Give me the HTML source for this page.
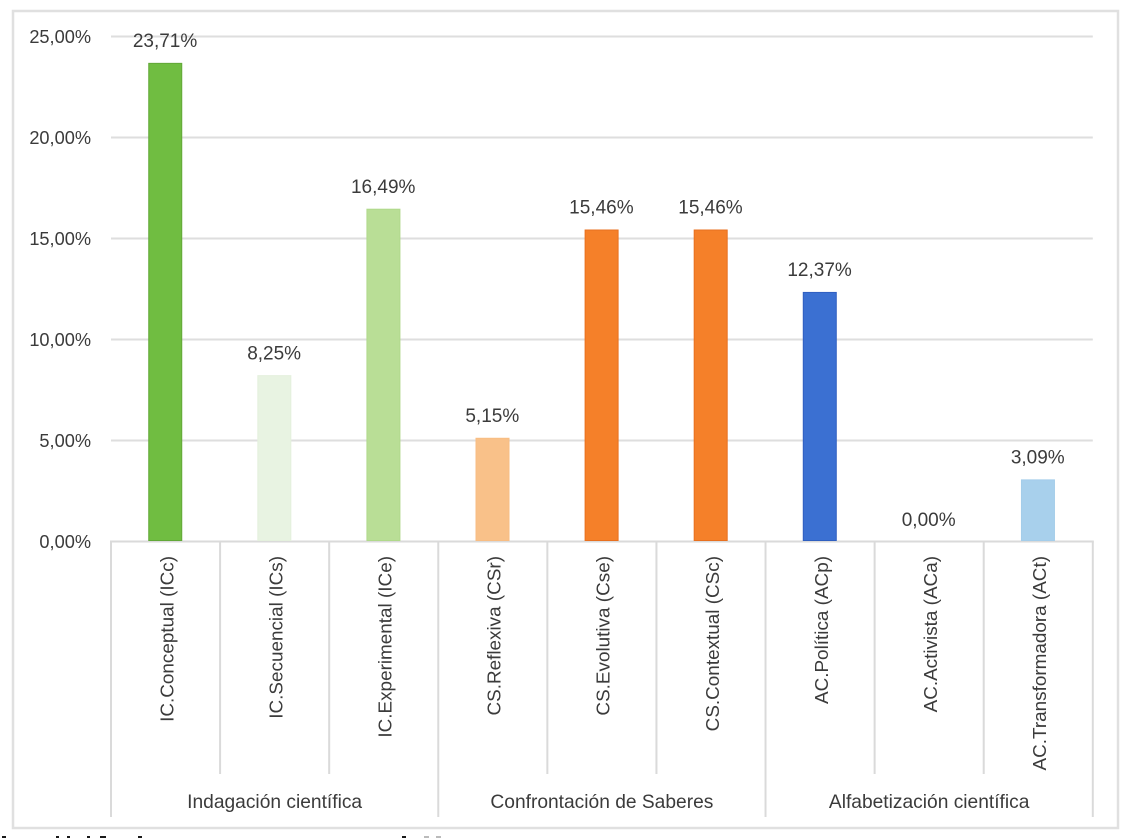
<!DOCTYPE html>
<html lang="es">
<head>
<meta charset="utf-8">
<title>Porcentajes por categoría</title>
<style>
  html, body { margin: 0; padding: 0; background: #fff; width: 1134px; height: 838px; overflow: hidden; }
  svg { display: block; }
  text { font-family: "Liberation Sans", sans-serif; fill: #3b3b3b; }
</style>
</head>
<body>
<svg id="chart" width="1134" height="838" viewBox="0 0 1134 838" xmlns="http://www.w3.org/2000/svg">
  <rect x="13" y="11" width="1105" height="817" fill="#fff" stroke="#e0e0e0" stroke-width="2.5"/>
  <g id="grid"></g>
  <g id="yticks"></g>
  <g id="axis"></g>
  <g id="bars"></g>
  <g id="values"></g>
  <g id="cats"></g>
  <g id="groups"></g>
  <g fill="#1a1a1a">
    <rect x="2" y="836" width="4" height="2"/><rect x="56" y="836" width="3" height="2"/>
    <rect x="67" y="836" width="3" height="2"/><rect x="87" y="836" width="3" height="2"/>
    <rect x="100" y="836" width="6" height="2"/><rect x="138" y="836" width="4" height="2"/>
    <rect x="402" y="836" width="4" height="2"/>
    <rect x="424" y="836" width="5" height="2" fill="#bbb"/><rect x="436" y="836" width="5" height="2" fill="#bbb"/>
  </g>
</svg>
<script>
const categories = ["IC.Conceptual (ICc)", "IC.Secuencial (ICs)", "IC.Experimental (ICe)", "CS.Reflexiva (CSr)", "CS.Evolutiva (Cse)", "CS.Contextual (CSc)", "AC.Política (ACp)", "AC.Activista (ACa)", "AC.Transformadora (ACt)"];
const values = [23.71, 8.25, 16.49, 5.15, 15.46, 15.46, 12.37, 0, 3.09];
const barColors = ["#70bd41", "#e8f3e2", "#b9de96", "#f9c189", "#f58029", "#f58029", "#3b70d2", "#a5a5a5", "#a8d0ec"];
const barEdges = ["#62a838", "#e4f0dd", "#b0d98b", "#f8bd83", "#e8701f", "#e8701f", "#2f5fc0", "#a5a5a5", "#a4cdea"];
const yTicks = [0, 5, 10, 15, 20, 25];
const groupNames = ["Indagación científica", "Confrontación de Saberes", "Alfabetización científica"];
const groupSizes = [3, 3, 3];

const NS = "http://www.w3.org/2000/svg";
const plotLeft = 111, plotRight = 1092.8, plotBottom = 541.5, plotTop = 36.5, maxV = 25;
const catW = (plotRight - plotLeft) / categories.length;
const barW = 33;
const xBand = i => plotLeft + catW * i;
const xMid = i => xBand(i) + catW / 2;
const yVal = v => plotBottom - (v / maxV) * (plotBottom - plotTop);
const pct = v => v.toFixed(2).replace(".", ",") + "%";
function mk(tag, attrs, parent, txt) {
  const el = document.createElementNS(NS, tag);
  for (const k in attrs) el.setAttribute(k, attrs[k]);
  if (txt !== undefined) el.textContent = txt;
  parent.appendChild(el);
  return el;
}
const gridG = document.getElementById("grid"), tickG = document.getElementById("yticks"),
      axisG = document.getElementById("axis"), barG = document.getElementById("bars"),
      valG = document.getElementById("values"), catG = document.getElementById("cats"),
      groupG = document.getElementById("groups");

yTicks.forEach(t => {
  if (t > 0) {
    const g = mk("line", {x1: plotLeft, x2: plotRight, y1: yVal(t), y2: yVal(t), stroke: "#dedede", "stroke-width": 2}, gridG);
    
    
  }
  const l = mk("text", {x: 91, y: yVal(t) + 6.5, "text-anchor": "end", "font-size": 18.2}, tickG, pct(t));
  
  
});

const base = mk("line", {x1: plotLeft - 1, x2: plotRight + 1, y1: plotBottom, y2: plotBottom, stroke: "#dadada", "stroke-width": 2}, axisG);



const groupEdges = new Set([0]);
let running = 0;
groupSizes.forEach(n => { running += n; groupEdges.add(running); });
for (let i = 0; i <= categories.length; i++) {
  const isGroup = groupEdges.has(i);
  const tick = mk("line", {x1: xBand(i), x2: xBand(i), y1: plotBottom, y2: isGroup ? 817 : 774, stroke: "#dadada", "stroke-width": 2}, axisG);
  
  
}

categories.forEach((c, i) => {
  const v = values[i];
  const top = yVal(v) + 0.8;
  if (v > 0) {
    const b = mk("rect", {x: xMid(i) - barW / 2 - 0.3, y: top, width: barW, height: plotBottom - top - 1, fill: barColors[i], stroke: barEdges[i], "stroke-width": 1}, barG);
    
    
  }
  const vt = mk("text", {x: xMid(i) - 0.5, y: top - 16.3, "text-anchor": "middle", "font-size": 19}, valG, pct(v));
  
  
  const bx = xMid(i) + 7.8;
  const ct = mk("text", {transform: "translate(" + bx + ",556) rotate(-90)", "text-anchor": "end", "font-size": 18.9}, catG, c);
  
  
});

let start = 0;
groupNames.forEach((g, i) => {
  const cx = xBand(start) + catW * groupSizes[i] / 2;
  const gt = mk("text", {x: cx, y: 808, "text-anchor": "middle", "font-size": 19.2}, groupG, g);
  
  
  start += groupSizes[i];
});
</script>
</body>
</html>
